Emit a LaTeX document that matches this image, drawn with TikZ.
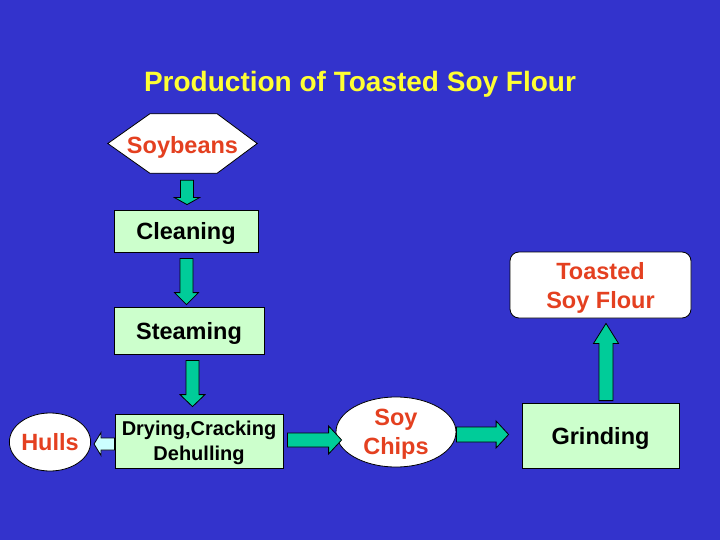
\documentclass[tikz,border=0pt]{standalone}
\usepackage{fontspec}
\setmainfont{Liberation Sans}
\usetikzlibrary{calc,shapes.geometric}
\definecolor{bg}{RGB}{51,51,204}
\definecolor{ttl}{RGB}{255,255,51}
\definecolor{redtxt}{RGB}{228,64,32}
\definecolor{boxgreen}{RGB}{204,255,204}
\definecolor{arrteal}{RGB}{0,204,153}
\definecolor{arrcyan}{RGB}{204,255,255}
\newcommand{\bodyfont}{\fontsize{23.5}{29}\selectfont\bfseries}
\newcommand{\smallbodyfont}{\fontsize{20}{25}\selectfont\bfseries}
\tikzset{
  stepbox/.style={draw=black, line width=0.8pt, fill=boxgreen, inner sep=0pt,
    font=\bodyfont, text=black, align=center, text depth=0pt},
  whitebox/.style={draw=black, line width=0.8pt, fill=white, inner sep=0pt,
    font=\bodyfont, text=redtxt, align=center, text depth=0pt},
  tealarrow/.style={draw=black, line width=0.8pt, fill=arrteal},
  cyanarrow/.style={draw=black, line width=0.8pt, fill=arrcyan},
  barrow/.style n args={3}{to path={
    let \p1=(\tikztostart), \p2=(\tikztotarget),
        \n1={atan2(\y2-\y1,\x2-\x1)}, \n2={veclen(\x2-\x1,\y2-\y1)} in
    ([shift={(\p1)},rotate=\n1]0pt,#1pt)
    -- ([shift={(\p1)},rotate=\n1]{\n2*1pt-#3pt},#1pt)
    -- ([shift={(\p1)},rotate=\n1]{\n2*1pt-#3pt},#2pt)
    -- ([shift={(\p1)},rotate=\n1]{\n2*1pt},0pt)
    -- ([shift={(\p1)},rotate=\n1]{\n2*1pt-#3pt},-#2pt)
    -- ([shift={(\p1)},rotate=\n1]{\n2*1pt-#3pt},-#1pt)
    -- ([shift={(\p1)},rotate=\n1]0pt,-#1pt) -- cycle}}
}
\begin{document}
\begin{tikzpicture}[x=1pt,y=-1pt]
\useasboundingbox (0,0) rectangle (720,540);
\fill[bg] (0,0) rectangle (720,540);

% title
\node[font=\fontsize{28}{32}\selectfont\bfseries, text=ttl] (title) at (360,84) {Production of Toasted Soy Flour};

% soybeans hexagon
\node[inner sep=0pt, minimum width=149pt, minimum height=59pt] (soy) at (182.5,143.5) {};
\draw[line width=0.8pt, draw=black, fill=white]
  (soy.west) -- ($(soy.north west)+(42,0)$) -- ($(soy.north east)+(-40,0)$)
  -- (soy.east) -- ($(soy.south east)+(-40,0)$) -- ($(soy.south west)+(42,0)$) -- cycle;
\node[font=\bodyfont, text=redtxt, text depth=0pt] (soytxt) at (182.5,145) {Soybeans};

% process boxes
\node[stepbox, minimum width=144pt, minimum height=42pt] (clean) at (186,231) {Cleaning};
\node[stepbox, minimum width=150pt, minimum height=47pt] (steam) at (189,330.5) {Steaming};
\node[stepbox, minimum width=168pt, minimum height=54pt, font=\smallbodyfont] (dry) at (199,441) {Drying,Cracking\\Dehulling};
\node[stepbox, minimum width=157pt, minimum height=65pt] (grind) at (600.5,435.5) {Grinding};

% white shapes
\node[whitebox, ellipse, minimum width=64pt, minimum height=58pt] (hulls) at (50,442) {Hulls};
\node[whitebox, ellipse, minimum width=120pt, minimum height=70pt] (chips) at (396,432) {Soy\\Chips};
\node[whitebox, rounded corners=9pt, minimum width=181pt, minimum height=66pt] (toast) at (600.5,285) {Toasted\\Soy Flour};

% arrows
\draw[tealarrow] ($(soy.south)+(4.5,7)$) to[barrow={6.5}{12.5}{7}] ($(soy.south |- clean.north)+(4.5,-5)$);
\draw[tealarrow] ($(clean.south)+(0.5,6)$) to[barrow={6.5}{12}{12}] ($(clean.south |- steam.north)+(0.5,-2)$);
\draw[tealarrow] ($(steam.south)+(3.5,6)$) to[barrow={6.5}{12.5}{12}] ($(steam.south |- dry.north)+(3.5,-7)$);
\draw[cyanarrow] ($(dry.west)+(0,3)$) to[barrow={6}{11.5}{7}] ($(hulls.east |- dry.west)+(3,3)$);
\draw[tealarrow] ($(dry.east)+(4,-1)$) to[barrow={7}{14}{13}] ($(chips.west |- dry.east)+(6,-1)$);
\draw[tealarrow] ($(chips.east)+(0,2.5)$) to[barrow={7.5}{13.5}{12.5}] ($(grind.west |- chips.east)+(-13,2.5)$);
\draw[tealarrow] ($(grind.north)+(5.5,-2)$) to[barrow={7}{12.5}{20}] ($(grind.north |- toast.south)+(5.5,5)$);
\end{tikzpicture}
\end{document}
